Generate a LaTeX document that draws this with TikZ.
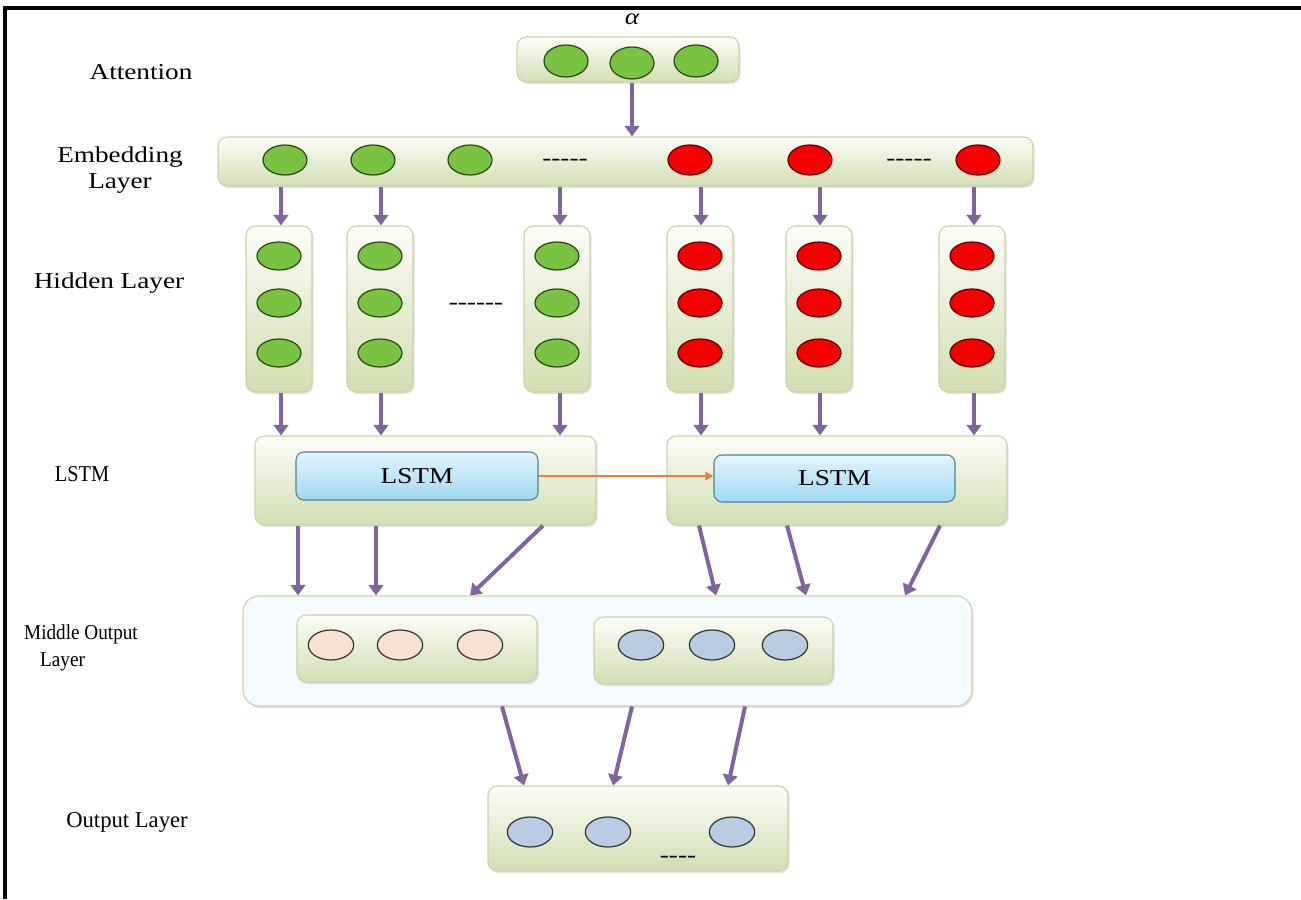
\documentclass[tikz,border=0pt]{standalone}
\usepackage{fontspec}
\setmainfont{Liberation Serif}[FakeStretch=1.2]
\newfontfamily\condf{Liberation Serif}[FakeStretch=0.9]
\newfontfamily\plainf{Liberation Serif}
\usetikzlibrary{arrows.meta,shadows,shapes.geometric}
\definecolor{boxtop}{RGB}{252,253,247}
\definecolor{boxbot}{RGB}{210,222,178}
\definecolor{boxedge}{RGB}{200,212,170}
\definecolor{midfill}{RGB}{244,250,253}
\definecolor{lstmtop}{RGB}{226,245,253}
\definecolor{lstmbot}{RGB}{160,216,242}
\definecolor{lstmedge}{RGB}{74,130,150}
\definecolor{arrowc}{RGB}{128,100,162}
\definecolor{orangec}{RGB}{237,125,49}
\definecolor{greenc}{RGB}{122,194,66}
\definecolor{greenedge}{RGB}{40,70,20}
\definecolor{redc}{RGB}{245,0,0}
\definecolor{rededge}{RGB}{90,0,0}
\definecolor{pinkc}{RGB}{252,224,208}
\definecolor{bluec}{RGB}{184,204,228}
\begin{document}
\begin{tikzpicture}[x=0.75pt,y=-0.75pt,
  lbl/.style={font=\fontsize{17}{19}\selectfont, align=center, inner sep=0pt},
  dots/.style={font=\fontsize{17}{19}\selectfont, anchor=base, inner sep=0pt},
  gbox/.style={draw=boxedge, line width=0.8pt, rounded corners=7pt, top color=boxtop, bottom color=boxbot,
     drop shadow={opacity=0.22, shadow xshift=1.2pt, shadow yshift=-1.5pt}, inner sep=0pt},
  mbox/.style={draw=boxedge, line width=0.8pt, rounded corners=12pt, fill=midfill,
     drop shadow={opacity=0.22, shadow xshift=1.2pt, shadow yshift=-1.5pt}, inner sep=0pt},
  lbox/.style={draw=lstmedge, line width=0.8pt, rounded corners=6pt, top color=lstmtop, bottom color=lstmbot,
     inner sep=0pt, font=\fontsize{17}{19}\selectfont},
  cell/.style={ellipse, line width=0.9pt, minimum width=33pt, minimum height=22.5pt, inner sep=0pt},
  gc/.style={cell, draw=greenedge, fill=greenc},
  rc/.style={cell, draw=rededge, fill=redc},
  pc/.style={cell, draw=black!80, fill=pinkc, minimum width=34pt},
  bc/.style={cell, draw=black!80, fill=bluec, minimum width=34pt},
  parrow/.style={draw=arrowc, line width=3pt, -{Triangle[width=11pt,length=8pt]}},
  oarrow/.style={draw=orangec, line width=1.6pt, -{Triangle[width=6pt,length=6pt]}}
]
\useasboundingbox (0,0) rectangle (1301,899);
% frame
\draw[line width=2.3pt] (5,899) -- (5,8) -- (1301,8);

% labels
\node[lbl] (lAtt) at (141,72) {Attention};
\node[lbl] (lEmb) at (120,170) {Embedding\\Layer};
\node[lbl] (lHid) at (109,283) {Hidden Layer};
\node[lbl, font=\fontsize{17}{19}\condf] (lLstm) at (82,474) {LSTM};
\node[lbl, align=left, font=\fontsize{16}{20}\condf] (lMid) at (81,648) {Middle Output\\\hspace*{12pt}Layer};
\node[lbl, font=\fontsize{17}{19}\plainf] (lOut) at (127,822) {Output Layer};

% attention
\node[lbl, font=\fontsize{17}{19}\selectfont\itshape] (alpha) at (632,19) {α};
\node[gbox, minimum width=222*0.75pt, minimum height=45*0.75pt] (att) at (628,59.5) {};
\node[gc, minimum height=24pt] (a1) at (566,61) {};
\node[gc, minimum height=24pt] (a2) at (632,63) {};
\node[gc, minimum height=24pt] (a3) at (696,61) {};

% embedding
\node[gbox, minimum width=815*0.75pt, minimum height=49*0.75pt] (emb) at (625.5,161.5) {};
\node[gc] (e1) at (285,160) {};
\node[gc] (e2) at (373,160) {};
\node[gc] (e3) at (470,160) {};
\node[dots] (ed1) at (565,165) {-{}-{}-{}-{}-};
\node[rc] (e4) at (690,160) {};
\node[rc] (e5) at (810,160) {};
\node[dots] (ed2) at (909,165) {-{}-{}-{}-{}-};
\node[rc] (e6) at (978,160) {};

\draw[parrow] (632,0 |- att.south) -- (632,0 |- emb.north);

% hidden columns
\foreach \n/\x/\s in {h1/279/gc,h2/380/gc,h3/557/gc,h4/700/rc,h5/819/rc,h6/972/rc}{
  \node[gbox, minimum width=66*0.75pt, minimum height=166*0.75pt] (\n) at (\x,309) {};
  \node[\s, minimum height=21pt] (\n a) at (\x,256) {};
  \node[\s, minimum height=21pt] (\n b) at (\x,303) {};
  \node[\s, minimum height=21pt] (\n c) at (\x,353) {};
}
\node[dots] (hd) at (476,309) {-{}-{}-{}-{}-{}-};

\draw[parrow] (281,0 |- emb.south) -- (281,0 |- h1.north);
\draw[parrow] (381,0 |- emb.south) -- (381,0 |- h2.north);
\draw[parrow] (560,0 |- emb.south) -- (560,0 |- h3.north);
\draw[parrow] (701,0 |- emb.south) -- (701,0 |- h4.north);
\draw[parrow] (820,0 |- emb.south) -- (820,0 |- h5.north);
\draw[parrow] (974,0 |- emb.south) -- (974,0 |- h6.north);

% LSTM
\node[gbox, minimum width=341*0.75pt, minimum height=89*0.75pt] (L1) at (425.5,480.5) {};
\node[gbox, minimum width=340*0.75pt, minimum height=89*0.75pt] (L2) at (837,480.5) {};
\node[lbox, minimum width=242*0.75pt, minimum height=48*0.75pt] (L1i) at (417,476) {LSTM};
\node[lbox, minimum width=241*0.75pt, minimum height=47*0.75pt] (L2i) at (834.5,478.5) {LSTM};
\draw[oarrow] (L1i.east) -- (L2i.west |- L1i.east);

\draw[parrow] (281,0 |- h1.south) -- (281,0 |- L1.north);
\draw[parrow] (381,0 |- h2.south) -- (381,0 |- L1.north);
\draw[parrow] (560,0 |- h3.south) -- (560,0 |- L1.north);
\draw[parrow] (701,0 |- h4.south) -- (701,0 |- L2.north);
\draw[parrow] (820,0 |- h5.south) -- (820,0 |- L2.north);
\draw[parrow] (974,0 |- h6.south) -- (974,0 |- L2.north);

% middle output
\node[mbox, minimum width=729*0.75pt, minimum height=110*0.75pt] (mid) at (607.5,651) {};
\node[gbox, minimum width=240*0.75pt, minimum height=67*0.75pt] (m1) at (417,648.5) {};
\node[gbox, minimum width=239*0.75pt, minimum height=67*0.75pt] (m2) at (713.5,650.5) {};
\node[pc] (p1) at (331,645) {};
\node[pc] (p2) at (400,645) {};
\node[pc] (p3) at (480,645) {};
\node[bc] (b1) at (641,645) {};
\node[bc] (b2) at (712,645) {};
\node[bc] (b3) at (785,645) {};

\draw[parrow] (298,0 |- L1.south) -- (298,0 |- mid.north);
\draw[parrow] (376,0 |- L1.south) -- (376,0 |- mid.north);
\draw[parrow] (543,0 |- L1.south) -- (470,0 |- mid.north);
\draw[parrow] (699,0 |- L2.south) -- (716,0 |- mid.north);
\draw[parrow] (787,0 |- L2.south) -- (806,0 |- mid.north);
\draw[parrow] (940,0 |- L2.south) -- (905,0 |- mid.north);

% output
\node[gbox, minimum width=300*0.75pt, minimum height=85*0.75pt] (out) at (638,828.5) {};
\node[bc] (o1) at (530,832) {};
\node[bc] (o2) at (608,832) {};
\node[bc] (o3) at (732,832) {};
\node[dots] (od) at (678,862) {-{}-{}-{}-};

\draw[parrow] (502,0 |- mid.south) -- (524,0 |- out.north);
\draw[parrow] (632,0 |- mid.south) -- (613,0 |- out.north);
\draw[parrow] (745,0 |- mid.south) -- (728,0 |- out.north);
\end{tikzpicture}
\end{document}
